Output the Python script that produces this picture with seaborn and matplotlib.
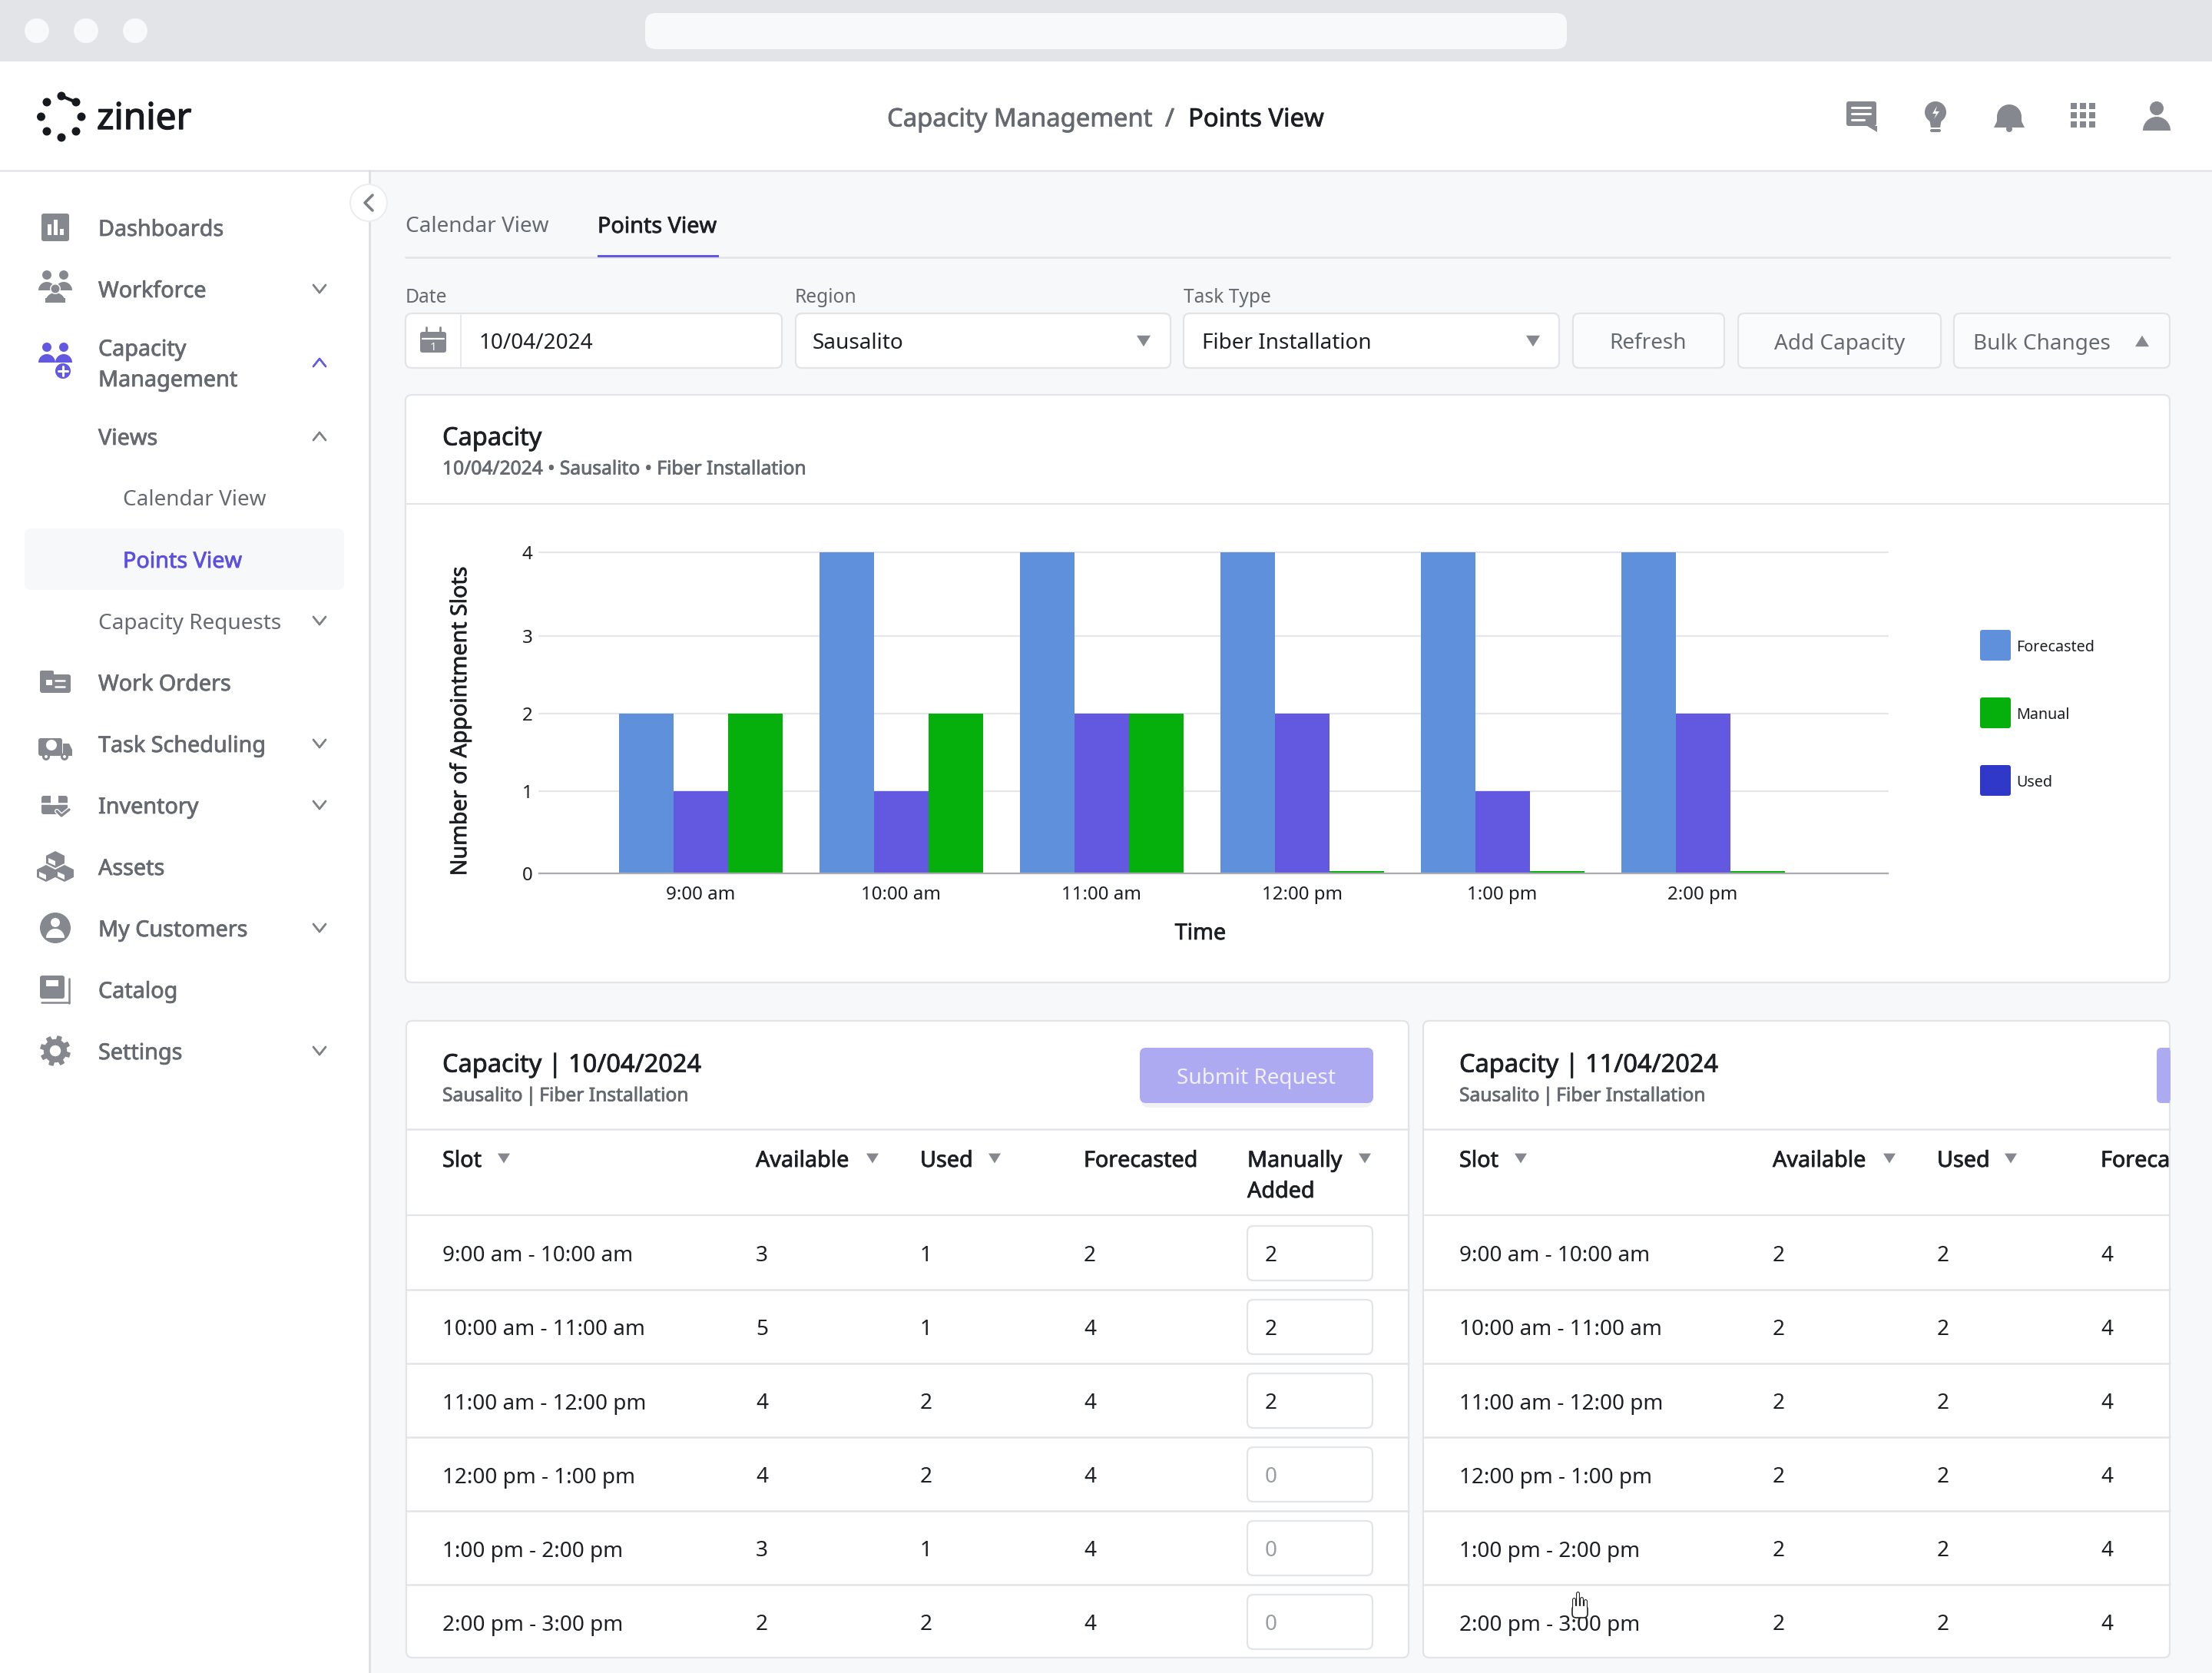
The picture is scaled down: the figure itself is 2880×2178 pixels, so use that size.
"""
plot.py

Capacity dashboard screenshot: grouped bar chart with the app chrome around it.
Chrome is laid out on a full-figure axes in pixel coordinates.
"""

import numpy as np
import pandas as pd
import matplotlib.pyplot as plt
import matplotlib.patheffects as pe
from matplotlib.lines import Line2D
from matplotlib.patches import Circle, FancyBboxPatch, Polygon, Rectangle, Wedge
import seaborn as sns

W, H = 2880, 2178
DPI = 200

# chart data
SLOTS = ["9:00 am", "10:00 am", "11:00 am", "12:00 pm", "1:00 pm", "2:00 pm"]
FORECASTED = [2, 4, 4, 4, 4, 4]
USED = [1, 1, 2, 2, 1, 2]
# the zero bars still show a thin green stub in the picture
MANUAL = [2, 2, 2, 0.03, 0.03, 0.03]
SERIES_ORDER = ["Forecasted", "Used", "Manual"]
LEGEND_LABELS = ["Forecasted", "Manual", "Used"]

# table data
ROW_LABELS = ["9:00 am - 10:00 am", "10:00 am - 11:00 am", "11:00 am - 12:00 pm",
              "12:00 pm - 1:00 pm", "1:00 pm - 2:00 pm", "2:00 pm - 3:00 pm"]
LEFT_AVAILABLE = [3, 5, 4, 4, 3, 2]
LEFT_USED = [1, 1, 2, 2, 1, 2]
LEFT_FORECASTED = [2, 4, 4, 4, 4, 4]
LEFT_MANUAL = [2, 2, 2, 0, 0, 0]
RIGHT_AVAILABLE = [2, 2, 2, 2, 2, 2]
RIGHT_USED = [2, 2, 2, 2, 2, 2]
RIGHT_FORECASTED = [4, 4, 4, 4, 4, 4]

BAR_COLORS = {"Forecasted": "#5E90DC", "Used": "#6359E1", "Manual": "#06B00C"}
LEGEND_COLORS = ["#5E90DC", "#06B00C", "#3038C7"]

GREY_BG = "#F7F8FA"
LINE = "#E3E4E8"
ICON = "#85888E"
DARK = "#1C1F24"
MUTED = "#656970"
PURPLE = "#6359E1"

BODY = 10.05
MEDIUM = 10.35
SMALL = 8.85

sns.set_theme(style="white")
plt.rcParams["font.family"] = ["Noto Sans", "DejaVu Sans"]

fig = plt.figure(figsize=(W / DPI, H / DPI), dpi=DPI, facecolor=GREY_BG)
ui = fig.add_axes([0, 0, 1, 1], zorder=0)
ui.set_xlim(0, W)
ui.set_ylim(H, 0)
ui.axis("off")


def box(x0, y0, x1, y1, fc="white", ec="none", r=0, lw=0.8, z=1):
    p = FancyBboxPatch((x0, y0), x1 - x0, y1 - y0, boxstyle=f"round,pad=0,rounding_size={r}",
                       fc=fc, ec=ec, lw=lw, zorder=z)
    ui.add_patch(p)
    return p


def txt(x, y, s, size=BODY, color=DARK, medium=False, ha="left", **kw):
    t = ui.text(x, y, s, fontsize=size, color=color, ha=ha, va="center_baseline", zorder=5, **kw)
    if medium:
        # only regular and bold are usable here, a hairline stroke gets close to medium
        t.set_path_effects([pe.withStroke(linewidth=0.28, foreground=color)])
    return t


def hline(y, x0, x1, color=LINE, lw=0.8, z=2):
    ui.add_line(Line2D([x0, x1], [y, y], color=color, lw=lw, zorder=z))


def vline(x, y0, y1, color=LINE, lw=0.8, z=2):
    ui.add_line(Line2D([x, x], [y0, y1], color=color, lw=lw, zorder=z))


def poly(points, color=ICON, z=4):
    ui.add_patch(Polygon(points, closed=True, fc=color, ec="none", zorder=z))


def circ(x, y, r, color=ICON, z=4):
    ui.add_patch(Circle((x, y), r, fc=color, ec="none", zorder=z))


def dome(x, y, r, color=ICON, z=4):
    # y axis is inverted so the top half is 180..360
    ui.add_patch(Wedge((x, y), r, 180, 360, fc=color, ec="none", zorder=z))


def chevron(x, y, up=False, color="#7D8086"):
    d = -5 if up else 5
    ui.add_line(Line2D([x - 8, x, x + 8], [y - d, y + d, y - d], color=color, lw=1.0,
                       solid_capstyle="round", zorder=4))


def tri(x, y, up=False, color="#85888E", s=9):
    d = -s * 0.8 if up else s * 0.8
    poly([(x - s, y - d), (x + s, y - d), (x, y + d)], color=color)


def gear(x, y, r, color=ICON):
    angles = np.linspace(0, 2 * np.pi, 97)[:-1]
    radii = np.where((np.arange(96) % 12) < 6, r, r * 0.76)
    poly(np.c_[x + radii * np.cos(angles + 0.13), y + radii * np.sin(angles + 0.13)], color)
    circ(x, y, r * 0.36, "white", 5)


def people(x, y, color):
    for dx in (-11, 11):
        circ(x + dx, y - 12, 6, color)
        dome(x + dx, y + 8, 11, color)


# browser bar and header
box(0, 0, W, 80, fc="#E2E4E8", z=0.5)
for cx in (48, 112, 176):
    circ(cx, 40, 16, "#F8F9FB")
box(840, 17, 2040, 64, fc="#F8F9FB", r=14)
box(0, 80, W, 222, fc="white", z=0.5)
hline(222, 0, W, lw=0.9)

for dot in [(61, 133), (106, 152), (99, 171), (80, 179), (61, 171), (53.5, 152), (80, 125), (99, 133)]:
    circ(dot[0], dot[1], 5.5, "#16191D")
ui.add_line(Line2D([80, 99], [125, 133], color="#16191D", lw=1.5, zorder=4))
logo = txt(126, 150, "zinier", size=17.2, color="#16191D")
logo.set_path_effects([pe.withStroke(linewidth=0.5, foreground="#16191D")])

txt(1155, 152, "Capacity Management", size=11.8, color=MUTED, medium=True)
txt(1523, 152, "/", size=11.8, color=MUTED, ha="center", medium=True)
txt(1547, 152, "Points View", size=11.8, color=DARK, medium=True)

# header icons
box(2404, 132, 2443, 164, fc=ICON, r=3)
poly([(2431, 164), (2444, 164), (2444, 172)])
for yy, xx in ((140, 2435), (148, 2435), (156, 2427)):
    hline(yy, 2411, xx, color="white", lw=1.1, z=5)
circ(2520, 146, 14)
poly([(2512, 155), (2528, 155), (2526, 166), (2514, 166)])
box(2513, 168, 2527, 172, fc=ICON, r=2)
poly([(2522, 138), (2516, 148), (2521, 148), (2518, 155), (2525, 145), (2520, 145)], "white", 5)
dome(2616, 152, 16)
box(2600, 150, 2632, 160, fc=ICON, z=4)
poly([(2596, 166), (2600, 158), (2632, 158), (2636, 166)])
circ(2616, 168, 4)
for gx in (2696, 2708, 2720):
    for gy in (134, 146, 158):
        ui.add_patch(Rectangle((gx, gy), 8, 8, fc=ICON, ec="none", zorder=4))
circ(2808, 141, 9)
dome(2808, 170, 18)

# sidebar
box(0, 222, 481, H, fc="white", z=0.5)
vline(481, 222, H, color="#DADCE0", lw=0.9)
box(32, 688, 448, 768, fc=GREY_BG, r=8, z=1)
circ(480, 264, 25, "#ECEDF0", 3)
circ(480, 264, 23, "white", 3.5)
ui.add_line(Line2D([485, 475, 485], [254, 264, 274], color="#7D8086", lw=1.3, zorder=4))

SIDEBAR = [("Dashboards", 128, 296), ("Workforce", 128, 376), ("Capacity", 128, 452),
           ("Management", 128, 492), ("Views", 128, 568),
           ("Work Orders", 128, 888), ("Task Scheduling", 128, 968), ("Inventory", 128, 1048),
           ("Assets", 128, 1128), ("My Customers", 128, 1208), ("Catalog", 128, 1288),
           ("Settings", 128, 1368)]
for label, sx, sy in SIDEBAR:
    txt(sx, sy, label, size=MEDIUM, color=MUTED, medium=True)
txt(160, 648, "Calendar View", color=MUTED)
txt(128, 808, "Capacity Requests", color=MUTED)
txt(160, 728, "Points View", size=MEDIUM, color="#5B50E0", medium=True)

for cy in (376, 808, 968, 1048, 1208, 1368):
    chevron(416, cy)
chevron(416, 568, up=True)
chevron(416, 472, up=True, color=PURPLE)

# sidebar icons
box(54, 278, 90, 314, fc=ICON, r=3)
for bx, top in ((62, 292), (70, 286), (78, 298)):
    ui.add_patch(Rectangle((bx, top), 4.5, 306 - top, fc="white", ec="none", zorder=5))
people(72, 370, ICON)
circ(72, 376, 7, "white", 4.5)
circ(72, 376, 5.5, ICON, 4.6)
dome(72, 394, 13)
box(59, 388, 85, 394, fc=ICON, z=4)
people(72, 464, PURPLE)
circ(82, 483, 10, PURPLE, 5)
hline(483, 76, 88, color="white", lw=1.1, z=6)
vline(82, 477, 489, color="white", lw=1.1, z=6)
box(52, 878, 92, 902, fc=ICON, r=3)
box(52, 873, 70, 882, fc=ICON, r=2)
ui.add_patch(Rectangle((60, 885), 8, 7, fc="white", ec="none", zorder=5))
hline(886, 72, 84, color="white", lw=0.9, z=5)
hline(894, 72, 84, color="white", lw=0.9, z=5)
box(50, 961, 81, 984, fc=ICON, r=3)
poly([(82, 968), (90, 968), (94, 976), (94, 984), (82, 984)])
for wx in (60, 84):
    circ(wx, 985, 5)
    circ(wx, 985, 2, "white", 5)
circ(67, 970, 7, "white", 5)
box(54, 1036, 88, 1060, fc=ICON, r=3)
hline(1046, 54, 88, color="white", lw=0.9, z=5)
ui.add_patch(Rectangle((66, 1036), 10, 12, fc="white", ec="none", zorder=5))
ui.add_line(Line2D([74, 80, 90], [1056, 1062, 1054], color="white", lw=2.2, zorder=5.5))
ui.add_line(Line2D([74, 80, 90], [1056, 1062, 1054], color=ICON, lw=1.2, zorder=6))
for ax_, ay_ in ((72, 1118), (60, 1136), (84, 1136)):
    poly([(ax_ - 12, ay_ - 4), (ax_, ay_ - 10), (ax_ + 12, ay_ - 4), (ax_ + 12, ay_ + 6),
          (ax_, ay_ + 12), (ax_ - 12, ay_ + 6)])
    poly([(ax_ - 9, ay_ - 1), (ax_, ay_ + 3), (ax_, ay_ + 9), (ax_ - 9, ay_ + 5)], "white", 5)
circ(72, 1208, 20)
circ(72, 1201, 6, "white", 5)
dome(72, 1221, 12, "white", 5)
box(52, 1270, 84, 1300, fc=ICON, r=3)
ui.add_patch(Rectangle((60, 1276), 16, 8, fc="white", ec="none", zorder=5))
vline(90, 1274, 1306, color=ICON, lw=0.9)
hline(1305, 54, 90, color=ICON, lw=0.9)
gear(72, 1368, 20)

# tabs and filter row
txt(528, 292, "Calendar View", color=MUTED)
txt(778, 292, "Points View", size=MEDIUM, color=DARK, medium=True)
hline(335, 528, 2825, lw=0.9)
ui.add_patch(Rectangle((778, 332), 158, 2.5, fc=PURPLE, ec="none", zorder=3))

txt(528, 384, "Date", size=SMALL, color=MUTED)
txt(1035, 384, "Region", size=SMALL, color=MUTED)
txt(1541, 384, "Task Type", size=SMALL, color=MUTED)

box(528, 408, 1018, 479, ec=LINE, r=8)
vline(600, 410, 478, lw=0.6)
box(547, 432, 581, 459, fc=ICON, r=3, z=3)
vline(555, 426, 436, color=ICON, lw=1)
vline(573, 426, 436, color=ICON, lw=1)
hline(441, 550, 578, color="white", lw=0.8, z=4)
txt(564, 450, "1", size=5.5, color="white", ha="center")
txt(624, 444, "10/04/2024")
box(1036, 408, 1524, 479, ec=LINE, r=8)
txt(1058, 444, "Sausalito")
tri(1489, 444)
box(1541, 408, 2030, 479, ec=LINE, r=8)
txt(1565, 444, "Fiber Installation")
tri(1996, 444)
box(2048, 408, 2245, 479, fc="#FAFBFC", ec=LINE, r=8)
txt(2146, 444, "Refresh", color=MUTED, ha="center")
box(2263, 408, 2527, 479, fc="#FAFBFC", ec=LINE, r=8)
txt(2395, 444, "Add Capacity", color=MUTED, ha="center")
box(2544, 408, 2825, 479, fc="#FAFBFC", ec=LINE, r=8)
txt(2569, 444, "Bulk Changes", color=MUTED)
tri(2789, 444, up=True)

# chart card
box(528, 514, 2825, 1279, ec=LINE, r=8)
hline(656, 528, 2825)
txt(576, 567, "Capacity", size=11.7, medium=True)
txt(576, 608, "10/04/2024 \u2022 Sausalito \u2022 Fiber Installation", size=SMALL, color=MUTED, medium=True)

PLOT_L, PLOT_R, PLOT_T, PLOT_B = 702, 2458, 719, 1137
chart = fig.add_axes([PLOT_L / W, 1 - PLOT_B / H, (PLOT_R - PLOT_L) / W, (PLOT_B - PLOT_T) / H], zorder=2)
chart.patch.set_alpha(0)

df = pd.DataFrame({"Slot": SLOTS, "Forecasted": FORECASTED, "Used": USED, "Manual": MANUAL})
long_df = df.melt(id_vars="Slot", var_name="Series", value_name="Value")
sns.barplot(data=long_df, x="Slot", y="Value", hue="Series", hue_order=SERIES_ORDER,
            order=SLOTS, palette=BAR_COLORS, saturation=1, width=0.816, gap=0,
            linewidth=0, legend=False, ax=chart)

chart.set_xlim(-0.805, 5.923)
# the gridlines in the picture are not evenly spaced
GRID_STEPS = [0, 1, 2, 3, 4]
GRID_HEIGHTS = [0, 107, 208, 309, 418]
chart.set_yscale("function", functions=(lambda v: np.interp(v, GRID_STEPS, GRID_HEIGHTS),
                                        lambda h: np.interp(h, GRID_HEIGHTS, GRID_STEPS)))
chart.set_ylim(0, 4)
chart.set_yticks(GRID_STEPS)
chart.set_yticklabels([str(s) for s in GRID_STEPS])
chart.minorticks_off()
chart.set_axisbelow(True)
chart.yaxis.grid(True, color="#E5E6E9", lw=0.8, clip_on=False)
chart.xaxis.grid(False)
sns.despine(ax=chart, left=True)
chart.spines["bottom"].set_color("#A9ABB0")
chart.spines["bottom"].set_linewidth(0.8)
chart.tick_params(axis="both", length=0, labelsize=8.7, labelcolor=DARK)
chart.tick_params(axis="x", pad=5.7)
chart.tick_params(axis="y", pad=3)
chart.set_xlabel("")
chart.set_ylabel("")
txt(596, 939, "Number of Appointment Slots", size=10.3, medium=True, rotation=90,
    ha="center", rotation_mode="anchor")
txt(1563, 1212, "Time", size=MEDIUM, medium=True, ha="center")

for label, color, ly in zip(LEGEND_LABELS, LEGEND_COLORS, (840, 928, 1016)):
    box(2578, ly - 20, 2618, ly + 20, fc=color, r=3)
    txt(2625, ly, label, size=7.1, color=DARK)


def draw_table(x0, x1, title, col_xs, tri_xs, available, used, forecasted, manual=None):
    card = box(x0, 1329, x1, 2158, ec=LINE, r=8)
    hline(1470, x0, x1, lw=0.9)
    hline(1582, x0, x1)
    for ly in (1679, 1775, 1871, 1967, 2063):
        hline(ly, x0, x1, lw=0.9)
    tx = col_xs[0]
    txt(tx, 1383, title, size=11.7, medium=True)
    txt(tx, 1424, "Sausalito\u2009|\u2009Fiber Installation", size=SMALL, color=MUTED, medium=True)

    headers = ["Slot", "Available", "Used", "Forecasted", "Manually"]
    for hx, name in zip(col_xs, headers):
        t = txt(hx, 1508, name, size=MEDIUM, medium=True)
        t.set_clip_path(card)
        t.set_clip_on(True)
    if manual is not None:
        txt(col_xs[4], 1548, "Added", size=MEDIUM, medium=True)
    for hx in tri_xs:
        tri(hx, 1508, s=8)

    for i, label in enumerate(ROW_LABELS):
        ry = 1632 + i * 96
        txt(col_xs[0], ry, label)
        for cx, values in zip(col_xs[1:4], (available, used, forecasted)):
            txt(cx, ry, str(values[i]))
        if manual is not None:
            box(col_xs[4], ry - 36, 1787, ry + 35, ec=LINE, r=8)
            txt(1647, ry, str(manual[i]), color=DARK if manual[i] else "#9A9DA3")


draw_table(529, 1834, "Capacity | 10/04/2024", [576, 984, 1198, 1411, 1624],
           [656, 1136, 1295, 1777], LEFT_AVAILABLE, LEFT_USED, LEFT_FORECASTED, LEFT_MANUAL)
draw_table(1853, 2825, "Capacity | 11/04/2024", [1900, 2308, 2522, 2735],
           [1980, 2460, 2618], RIGHT_AVAILABLE, RIGHT_USED, RIGHT_FORECASTED)

box(1486, 1370, 1786, 1442, fc="#F1F1F6", r=10, z=2.5)
box(1484, 1364, 1788, 1436, fc="#AEAAF1", r=8, z=3)
txt(1636, 1400, "Submit Request", color="#F1F0FD", ha="center")
ui.add_patch(Rectangle((2815, 1364), 10, 72, fc="#AEAAF1", ec="none", zorder=3))
box(2808, 1364, 2826, 1436, fc="#AEAAF1", r=6, z=3)

# hand cursor over the last row
fingers = [(2049, 2082, 2096), (2054, 2074, 2096), (2059, 2081, 2096), (2064, 2084, 2096)]
for fx, fy0, fy1 in fingers:
    ui.add_line(Line2D([fx, fx], [fy0, fy1], color="#222", lw=1.8, solid_capstyle="round", zorder=6))
for fx, fy0, fy1 in fingers:
    ui.add_line(Line2D([fx, fx], [fy0, fy1], color="white", lw=1.0, solid_capstyle="round", zorder=7))
box(2047, 2090, 2067, 2106, fc="white", ec="#222", r=5, lw=0.6, z=6.5)

fig.savefig("out.png", dpi=DPI, facecolor=fig.get_facecolor())
